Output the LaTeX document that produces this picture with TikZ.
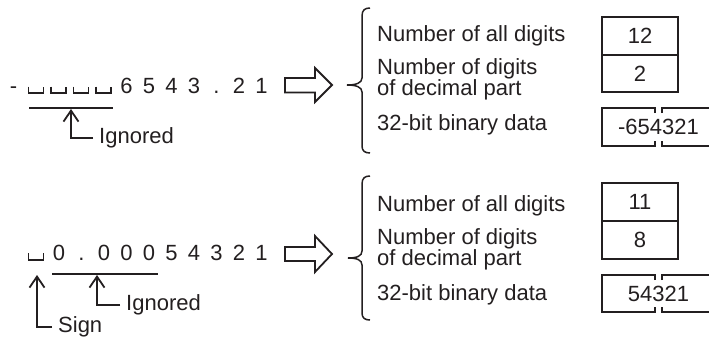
\documentclass[tikz,border=0pt]{standalone}
\usepackage{fontspec}
\setmainfont{Liberation Sans}
\usetikzlibrary{arrows.meta}
\definecolor{ink}{RGB}{35,31,32}
\begin{document}
\begin{tikzpicture}[x=1pt,y=-1pt,
  every node/.style={text=ink, font=\fontsize{22}{21}\selectfont},
  ch/.style={anchor=base, inner sep=0pt},
  lbl/.style={anchor=west, inner xsep=6pt, inner ysep=0pt},
  txt/.style={anchor=base west, inner sep=0pt, align=left},
  valbox/.style={draw=ink, line width=1.8pt, minimum width=76pt, minimum height=37.5pt, inner sep=0pt},
  val/.style={inner sep=0pt},
  ln/.style={draw=ink, line width=1.8pt},
  blankmark/.style={draw=ink, line width=1.6pt},
  bracestyle/.style={draw=ink, line width=1.5pt},
  barb/.style={ln, -{Straight Barb[length=11pt,width=15pt,line width=1.8pt]}},
  hollow/.style={draw=ink, line width=1.8pt, line join=miter}
]
\useasboundingbox (0,0) rectangle (709,338);

% ---------------- top row ----------------
\node[ch] (t0) at (13.5,93) {-};
\foreach \x in {36,58.5,81,103.5}
  \draw[blankmark] (\x-7.5,86.5) -- (\x-7.5,93) -- (\x+7.5,93) -- (\x+7.5,86.5);
\node[ch] (t5) at (126.5,93) {6};
\node[ch] (t6) at (149,93) {5};
\node[ch] (t7) at (171.5,93) {4};
\node[ch] (t8) at (194,93) {3};
\node[ch] (t9) at (216.5,93) {.};
\node[ch] (t10) at (239,93) {2};
\node[ch] (t11) at (261.5,93) {1};

\coordinate (u1a) at (29,108);
\coordinate (u1b) at (113,108);
\draw[ln] (u1a) -- (u1b);
\coordinate (tip1) at (71,109);
\node[lbl] (ign1) at (93,138) {Ignored};
\draw[barb] (ign1.west) -| (tip1);

\draw[hollow] (285,78) -- (315,78) -- (315,68) -- (332,85) -- (315,102) -- (315,92.5) -- (285,92.5) -- cycle;

\draw[bracestyle] (370,8) .. controls (365,8) and (362,10) .. (362,16) -- (362,78)
  .. controls (362,83) and (356,85) .. (347,85)
  .. controls (356,85) and (362,87) .. (362,92) -- (362,146)
  .. controls (362,151) and (365,153) .. (370,153);

\node[txt] (a1) at (377,41) {Number of all digits};
\node[txt] (a2) at (377,95) {Number of digits\\of decimal part};
\node[txt] (a3) at (377,130) {32-bit binary data};

\node[valbox] (v1) at (640,36) {12};
\node[valbox] (v2) at (640,73.5) {2};
\draw[ln] (655,113) -- (655,108) -- (602,108) -- (602,146) -- (655,146) -- (655,141);
\draw[ln] (662,113) -- (662,108) -- (711,108);
\draw[ln] (662,141) -- (662,146) -- (711,146);
\node[val] (v3) at (658.5,127) {-654321};

% ---------------- bottom row ----------------
\draw[blankmark] (28.5,253) -- (28.5,260) -- (43.5,260) -- (43.5,253);
\node[ch] (b1) at (59,260) {0};
\node[ch] (b2) at (81.5,260) {.};
\node[ch] (b3) at (104,260) {0};
\node[ch] (b4) at (126.5,260) {0};
\node[ch] (b5) at (149,260) {0};
\node[ch] (b6) at (171.5,260) {5};
\node[ch] (b7) at (194,260) {4};
\node[ch] (b8) at (216.5,260) {3};
\node[ch] (b9) at (239,260) {2};
\node[ch] (b10) at (261.5,260) {1};

\coordinate (u2a) at (52,274);
\coordinate (u2b) at (158,274);
\draw[ln] (u2a) -- (u2b);
\coordinate (tip2) at (97,275);
\node[lbl] (ign2) at (120,305) {Ignored};
\draw[barb] (ign2.west) -| (tip2);
\coordinate (tip3) at (37,275);
\node[lbl] (sign) at (52,327) {Sign};
\draw[barb] (sign.west) -| (tip3);

\draw[hollow] (285,247) -- (315,247) -- (315,236) -- (332,254) -- (315,272) -- (315,261) -- (285,261) -- cycle;

\draw[bracestyle] (370,176) .. controls (365,176) and (362,178) .. (362,184) -- (362,251)
  .. controls (362,256) and (357,258) .. (348,258)
  .. controls (357,258) and (362,260) .. (362,265) -- (362,313)
  .. controls (362,318) and (365,320) .. (370,320);

\node[txt] (c1) at (377,211) {Number of all digits};
\node[txt] (c2) at (377,265) {Number of digits\\of decimal part};
\node[txt] (c3) at (377,300) {32-bit binary data};

\node[valbox] (v4) at (640,202) {11};
\node[valbox] (v5) at (640,240) {8};
\draw[ln] (655,280) -- (655,275) -- (602,275) -- (602,312) -- (655,312) -- (655,307);
\draw[ln] (662,280) -- (662,275) -- (711,275);
\draw[ln] (662,307) -- (662,312) -- (711,312);
\node[val] (v6) at (658.5,293.5) {54321};
\end{tikzpicture}
\end{document}
